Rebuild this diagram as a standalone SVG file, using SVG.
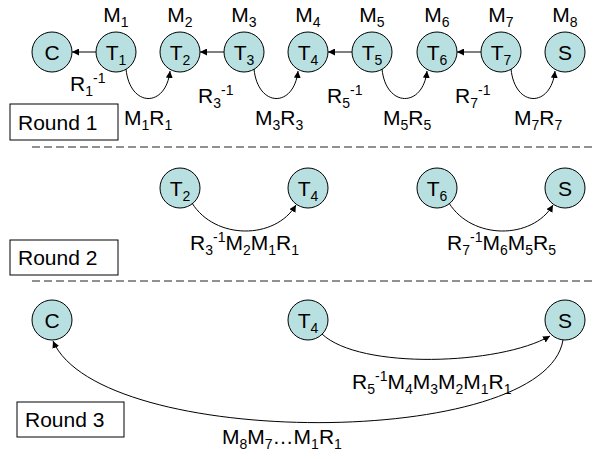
<svg xmlns="http://www.w3.org/2000/svg" width="593" height="459" viewBox="0 0 593 459">
<defs>
<style>
text{font-family:"Liberation Sans",Arial,sans-serif;font-size:21px;fill:#000}
.s{font-size:14px}
.node circle{fill:#b8e0e0;stroke:#000;stroke-width:1}
.nl{text-anchor:middle}
.c{fill:none;stroke:#000;stroke-width:1}
.box{fill:#fff;stroke:#000;stroke-width:1}
.dash{stroke:#222;stroke-width:1;stroke-dasharray:8 4}
</style>
<marker id="ah" viewBox="0 0 10 10" refX="10" refY="5" markerWidth="7" markerHeight="7" orient="auto" markerUnits="userSpaceOnUse">
<path d="M0,0 L10,5 L0,10 z" fill="#000"/>
</marker>
</defs>
<rect width="593" height="459" fill="#fff"/>

<!-- Round boxes and separators -->
<g id="round1"><rect class="box" x="10" y="104" width="108" height="36"/><text x="18" y="130">Round 1</text></g>
<g id="round2"><rect class="box" x="10" y="240" width="108" height="35"/><text x="18" y="265">Round 2</text></g>
<g id="round3"><rect class="box" x="17" y="402" width="107" height="35"/><text x="25" y="427">Round 3</text></g>
<line class="dash" x1="32" y1="147" x2="593" y2="147"/>
<line class="dash" x1="32" y1="281" x2="593" y2="281"/>

<!-- Row 1 nodes -->
<g id="r1-C" class="node"><circle cx="52" cy="52" r="20"/><text class="nl" x="52" y="60">C</text></g>
<g id="r1-T1" class="node"><circle cx="116" cy="52" r="20"/><text class="nl" x="116" y="60">T<tspan class="s" dy="5">1</tspan></text></g>
<g id="r1-T2" class="node"><circle cx="180" cy="52" r="20"/><text class="nl" x="180" y="60">T<tspan class="s" dy="5">2</tspan></text></g>
<g id="r1-T3" class="node"><circle cx="244" cy="52" r="20"/><text class="nl" x="244" y="60">T<tspan class="s" dy="5">3</tspan></text></g>
<g id="r1-T4" class="node"><circle cx="308" cy="52" r="20"/><text class="nl" x="308" y="60">T<tspan class="s" dy="5">4</tspan></text></g>
<g id="r1-T5" class="node"><circle cx="372" cy="52" r="20"/><text class="nl" x="372" y="60">T<tspan class="s" dy="5">5</tspan></text></g>
<g id="r1-T6" class="node"><circle cx="437" cy="52" r="20"/><text class="nl" x="437" y="60">T<tspan class="s" dy="5">6</tspan></text></g>
<g id="r1-T7" class="node"><circle cx="501" cy="52" r="20"/><text class="nl" x="501" y="60">T<tspan class="s" dy="5">7</tspan></text></g>
<g id="r1-S" class="node"><circle cx="565" cy="52" r="20"/><text class="nl" x="565" y="60">S</text></g>

<!-- M labels -->
<g id="m-labels">
<text class="nl" x="116" y="22">M<tspan class="s" dy="5">1</tspan></text>
<text class="nl" x="180" y="22">M<tspan class="s" dy="5">2</tspan></text>
<text class="nl" x="244" y="22">M<tspan class="s" dy="5">3</tspan></text>
<text class="nl" x="308" y="22">M<tspan class="s" dy="5">4</tspan></text>
<text class="nl" x="372" y="22">M<tspan class="s" dy="5">5</tspan></text>
<text class="nl" x="437" y="22">M<tspan class="s" dy="5">6</tspan></text>
<text class="nl" x="501" y="22">M<tspan class="s" dy="5">7</tspan></text>
<text class="nl" x="565" y="22">M<tspan class="s" dy="5">8</tspan></text>
</g>

<!-- Row 2 nodes -->
<g id="r2-T2" class="node"><circle cx="180" cy="188" r="20"/><text class="nl" x="180" y="196">T<tspan class="s" dy="5">2</tspan></text></g>
<g id="r2-T4" class="node"><circle cx="308" cy="188" r="20"/><text class="nl" x="308" y="196">T<tspan class="s" dy="5">4</tspan></text></g>
<g id="r2-T6" class="node"><circle cx="437" cy="188" r="20"/><text class="nl" x="437" y="196">T<tspan class="s" dy="5">6</tspan></text></g>
<g id="r2-S" class="node"><circle cx="565" cy="188" r="20"/><text class="nl" x="565" y="196">S</text></g>

<!-- Row 3 nodes -->
<g id="r3-C" class="node"><circle cx="52" cy="320" r="20"/><text class="nl" x="52" y="328">C</text></g>
<g id="r3-T4" class="node"><circle cx="308" cy="320" r="20"/><text class="nl" x="308" y="328">T<tspan class="s" dy="5">4</tspan></text></g>
<g id="r3-S" class="node"><circle cx="565" cy="320" r="20"/><text class="nl" x="565" y="328">S</text></g>

<!-- Connectors -->
<g id="connectors">
<line class="c" x1="96" y1="52" x2="72" y2="52" marker-end="url(#ah)"/>
<line class="c" x1="224" y1="52" x2="200" y2="52" marker-end="url(#ah)"/>
<line class="c" x1="352" y1="52" x2="328" y2="52" marker-end="url(#ah)"/>
<line class="c" x1="481" y1="52" x2="457" y2="52" marker-end="url(#ah)"/>
<path class="c" d="M126,69 C130,108 166,108 170,71" marker-end="url(#ah)"/>
<path class="c" d="M254,69 C258,108 294,108 298,71" marker-end="url(#ah)"/>
<path class="c" d="M382,69 C386,108 423,108 427,71" marker-end="url(#ah)"/>
<path class="c" d="M511,69 C515,108 551,108 555,71" marker-end="url(#ah)"/>
<path class="c" d="M192,203 C215,240 275,240 296,205" marker-end="url(#ah)"/>
<path class="c" d="M449,203 C472,240 532,240 553,205" marker-end="url(#ah)"/>
<path class="c" d="M322,334 C360,370 500,365 550,336" marker-end="url(#ah)"/>
<path class="c" d="M563,340 C545,450 100,450 53,341" marker-end="url(#ah)"/>
</g>

<!-- Edge labels -->
<g id="edge-labels">
<text x="70" y="91">R<tspan class="s" dy="5">1</tspan><tspan class="s" dy="-13">-1</tspan></text>
<text x="198" y="103">R<tspan class="s" dy="5">3</tspan><tspan class="s" dy="-13">-1</tspan></text>
<text x="327" y="103">R<tspan class="s" dy="5">5</tspan><tspan class="s" dy="-13">-1</tspan></text>
<text x="455" y="103">R<tspan class="s" dy="5">7</tspan><tspan class="s" dy="-13">-1</tspan></text>
<text x="124" y="125">M<tspan class="s" dy="5">1</tspan><tspan dy="-5">R</tspan><tspan class="s" dy="5">1</tspan></text>
<text x="255" y="125">M<tspan class="s" dy="5">3</tspan><tspan dy="-5">R</tspan><tspan class="s" dy="5">3</tspan></text>
<text x="383" y="125">M<tspan class="s" dy="5">5</tspan><tspan dy="-5">R</tspan><tspan class="s" dy="5">5</tspan></text>
<text x="514" y="125">M<tspan class="s" dy="5">7</tspan><tspan dy="-5">R</tspan><tspan class="s" dy="5">7</tspan></text>
<text x="190" y="250">R<tspan class="s" dy="5">3</tspan><tspan class="s" dy="-13">-1</tspan><tspan dy="8">M</tspan><tspan class="s" dy="5">2</tspan><tspan dy="-5">M</tspan><tspan class="s" dy="5">1</tspan><tspan dy="-5">R</tspan><tspan class="s" dy="5">1</tspan></text>
<text x="447" y="250">R<tspan class="s" dy="5">7</tspan><tspan class="s" dy="-13">-1</tspan><tspan dy="8">M</tspan><tspan class="s" dy="5">6</tspan><tspan dy="-5">M</tspan><tspan class="s" dy="5">5</tspan><tspan dy="-5">R</tspan><tspan class="s" dy="5">5</tspan></text>
<text x="352" y="389">R<tspan class="s" dy="5">5</tspan><tspan class="s" dy="-13">-1</tspan><tspan dy="8">M</tspan><tspan class="s" dy="5">4</tspan><tspan dy="-5">M</tspan><tspan class="s" dy="5">3</tspan><tspan dy="-5">M</tspan><tspan class="s" dy="5">2</tspan><tspan dy="-5">M</tspan><tspan class="s" dy="5">1</tspan><tspan dy="-5">R</tspan><tspan class="s" dy="5">1</tspan></text>
<text x="222" y="444">M<tspan class="s" dy="5">8</tspan><tspan dy="-5">M</tspan><tspan class="s" dy="5">7</tspan><tspan dy="-5">…M</tspan><tspan class="s" dy="5">1</tspan><tspan dy="-5">R</tspan><tspan class="s" dy="5">1</tspan></text>
</g>
</svg>
